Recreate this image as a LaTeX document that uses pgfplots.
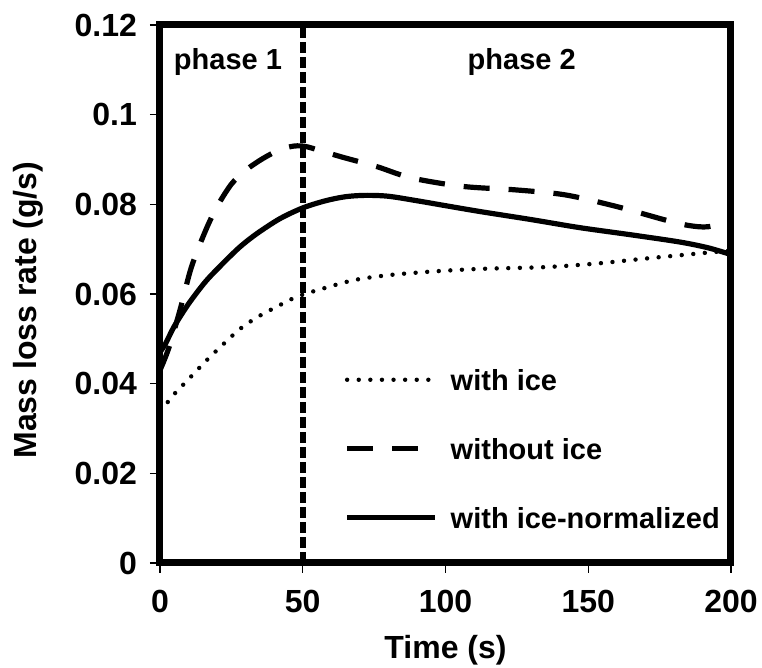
\documentclass[border=0pt]{standalone}
\usepackage{fontspec}
\setmainfont{Liberation Sans}
\usepackage{pgfplots}
\pgfplotsset{compat=1.18}

% mass loss rate curves, time in s, rate in g/s
\pgfplotstableread{
t     v
0     0.0340
2     0.0352
4     0.0370
10    0.0410
16    0.0450
22    0.0487
28    0.0522
34    0.0548
41    0.0572
48    0.0594
57    0.0612
68    0.0631
80    0.0642
95    0.0650
112   0.0656
135   0.0660
153   0.0668
170   0.0679
188   0.0690
200   0.0697
}\withice
\pgfplotstableread{
t     v
0     0.0430
3     0.0478
7     0.0564
11    0.0660
16    0.0742
20    0.0795
25    0.0845
30    0.0876
36    0.0902
42    0.0922
47    0.0930
51    0.0929
56    0.0920
64    0.0905
76    0.0884
88    0.0859
106   0.0840
125   0.0832
142   0.0821
160   0.0795
177   0.0765
185   0.0753
192   0.0750
200   0.0765
}\withoutice
\pgfplotstableread{
t     v
0     0.0470
2     0.0490
5     0.0528
10    0.0578
16    0.0628
22    0.0668
28    0.0705
34    0.0735
42    0.0768
50    0.0792
58    0.0808
65    0.0817
72    0.0820
80    0.0818
90    0.0808
100   0.0797
112   0.0784
130   0.0766
147   0.0748
165   0.0732
182   0.0716
192   0.0703
200   0.0688
}\normalized

\begin{document}
\begin{tikzpicture}
\useasboundingbox (-80pt,-52.5pt) rectangle (301pt,281.5pt);
\begin{axis}[
  at={(0,0)}, anchor=south west,
  scale only axis, width=285.5pt, height=269pt,
  xmin=0, xmax=200, ymin=0, ymax=0.12,
  xtick={0,50,100,150,200},
  ytick={0,0.02,0.04,0.06,0.08,0.1,0.12},
  scaled y ticks=false,
  yticklabel style={/pgf/number format/fixed, /pgf/number format/precision=2, xshift=-3pt},
  xticklabel style={yshift=-5pt},
  /pgf/number format/assume math mode=true,
  tick label style={font=\bfseries\fontsize{16}{19}\selectfont},
  axis line style={line width=3.5pt},
  tick align=outside, xtick pos=left, ytick pos=left,
  major tick length=5pt,
  tick style={line width=0.6pt, black},
  xlabel={Time (s)}, ylabel={Mass loss rate (g/s)},
  label style={font=\bfseries\fontsize{16}{19}\selectfont},
  xlabel style={at={(axis description cs:0.5,-0.1617)}, anchor=center},
  ylabel style={at={(axis description cs:-0.2312,0.47)}, anchor=center},
  legend style={at={(axis cs:64.5,0.0433)}, anchor=north west,
    draw=none, fill=none, inner sep=0pt, row sep=24pt, column sep=6.5pt,
    font=\bfseries\fontsize{14.5}{17}\selectfont,
    nodes={inner sep=0pt, text height=10.5pt, text depth=0pt}},
  legend cell align=left,
  legend image code/.code={\draw[#1] (0pt,0pt) -- (44pt,0pt);},
]
\addplot[black, line width=2.2pt, line cap=round, dash pattern=on 0pt off 5.8pt, smooth, tension=0.5]
  table[x=t, y=v] {\withice};
\addlegendentry{with ice}
\addplot[black, line width=2.6pt, dash pattern=on 13pt off 9.5pt, smooth, tension=0.5]
  table[x=t, y=v] {\withoutice};
\addlegendentry{without ice}
\addplot[black, line width=2.6pt, smooth, tension=0.5]
  table[x=t, y=v] {\normalized};
\addlegendentry{with ice-normalized}
% boundary between the two phases
\addplot[forget plot, black, line width=2.8pt, dash pattern=on 5.5pt off 2pt]
  coordinates {(50,0) (50,0.12)};
\node[font=\bfseries\fontsize{14.5}{17}\selectfont] at (axis cs:23.8,0.1118) {phase 1};
\node[font=\bfseries\fontsize{14.5}{17}\selectfont] at (axis cs:126.7,0.1118) {phase 2};
\end{axis}
\end{tikzpicture}
\end{document}
